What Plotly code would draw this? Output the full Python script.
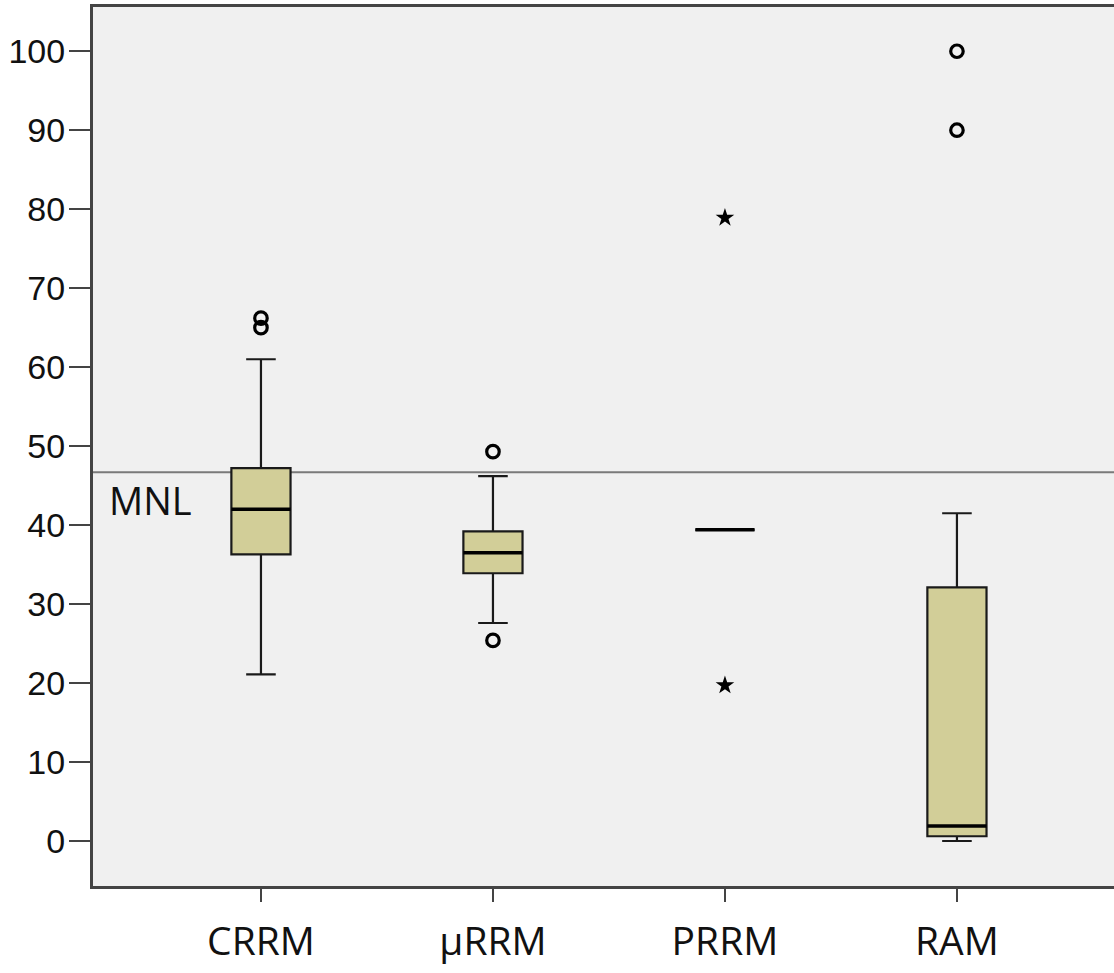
import plotly.graph_objects as go

categories = ["CRRM", "\u00b5RRM", "PRRM", "RAM"]
lower_whisker = [21.1, 27.6, 39.4, 0.0]
q1 = [36.3, 33.9, 39.4, 0.6]
median = [42.0, 36.5, 39.4, 1.9]
q3 = [47.2, 39.2, 39.4, 32.1]
upper_whisker = [61.0, 46.2, 39.4, 41.5]

outlier_x = ["CRRM", "CRRM", "\u00b5RRM", "\u00b5RRM", "RAM", "RAM"]
outlier_y = [66.2, 65.0, 49.3, 25.4, 100.0, 90.0]
extreme_x = ["PRRM", "PRRM"]
extreme_y = [78.9, 19.7]

mnl_value = 46.7
mnl_label = "MNL"
y_ticks = [0, 10, 20, 30, 40, 50, 60, 70, 80, 90, 100]

box_width = 0.255

fig = go.Figure()
fig.add_trace(go.Box(
    x=categories, q1=q1, median=median, q3=q3,
    lowerfence=lower_whisker, upperfence=upper_whisker,
    width=box_width, whiskerwidth=0.5,
    fillcolor="#D2CE98", line=dict(color="#1a1a1a", width=2.2),
    boxpoints=False, showlegend=False, hoverinfo="skip",
))
fig.add_trace(go.Box(
    x=categories, q1=median, median=median, q3=median,
    lowerfence=median, upperfence=median,
    width=box_width, whiskerwidth=0,
    fillcolor="rgba(0,0,0,0)", line=dict(color="#000000", width=3.5),
    boxpoints=False, showlegend=False, hoverinfo="skip",
))
fig.add_trace(go.Scatter(
    x=outlier_x, y=outlier_y, mode="markers",
    marker=dict(symbol="circle-open", size=12.5, color="#000000",
                line=dict(width=3.2, color="#000000")),
    showlegend=False, hoverinfo="skip",
))
fig.add_trace(go.Scatter(
    x=extreme_x, y=extreme_y, mode="markers",
    marker=dict(symbol="star", size=14, color="#000000"),
    showlegend=False, hoverinfo="skip",
))

fig.add_shape(type="line", xref="paper", x0=0, x1=1, yref="y",
              y0=mnl_value, y1=mnl_value,
              line=dict(color="#7a7a7a", width=2), layer="below")
fig.add_annotation(text=mnl_label, xref="paper", x=0.056, yref="y", y=43.2,
                   showarrow=False, xanchor="center", yanchor="middle",
                   font=dict(family="Open Sans", size=38, color="#111111"))

fig.update_layout(
    width=1114, height=973,
    margin=dict(l=93, r=0, t=7, b=87),
    paper_bgcolor="white", plot_bgcolor="#F0F0F0",
    boxmode="overlay",
    xaxis=dict(type="category", categoryorder="array", categoryarray=categories,
               range=[-0.724, 3.677], showgrid=False, zeroline=False,
               showline=True, linecolor="#444444", linewidth=3, mirror=True,
               ticks="outside", ticklen=13, tickwidth=1.5, tickcolor="#444444",
               ticklabelstandoff=6,
               tickfont=dict(family="Open Sans", size=39, color="#111111")),
    yaxis=dict(range=[-5.7, 105.6], tickvals=y_ticks, showgrid=False, zeroline=False,
               showline=True, linecolor="#444444", linewidth=3, mirror=False,
               ticks="outside", ticklen=21, tickwidth=2, tickcolor="#444444",
               ticklabelstandoff=-3,
               tickfont=dict(family="Liberation Sans", size=34, color="#111111")),
)

fig.write_html("out.html", config={"displayModeBar": False},
               post_script="document.body.style.margin='0px';")
